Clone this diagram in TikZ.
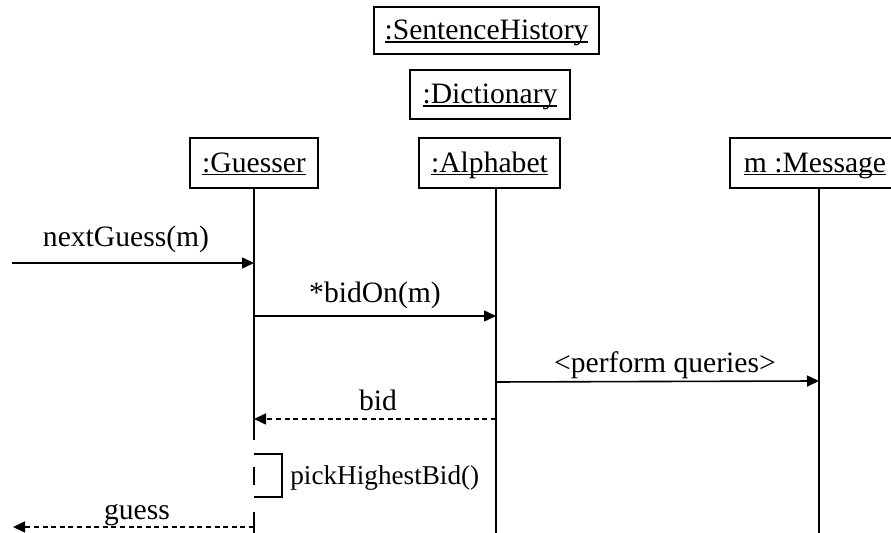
\documentclass[tikz,border=0pt]{standalone}
\usepackage{fontspec}
\setmainfont{Liberation Serif}
\usetikzlibrary{arrows.meta}

\newcommand\objlabel[1]{\setbox0\hbox{#1}\rlap{\vrule height -0.6pt depth 1.4pt width \wd0}\box0}

\tikzset{
  obj/.style={draw, line width=0.8pt, inner sep=0pt, text height=10.5pt, text depth=1pt},
  life/.style={line width=0.8pt},
  msg/.style={line width=0.8pt, -{Triangle[length=6pt,width=5.5pt]}},
  reply/.style={msg, dash pattern=on 2.5pt off 1.8pt},
  lbl/.style={anchor=base, inner sep=0pt}
}

\begin{document}
\begin{tikzpicture}[x=0.5pt, y=-0.5pt, font=\fontsize{14.8}{17}\selectfont]
    \useasboundingbox (0,0) rectangle (891,533);
    \clip (0,0) rectangle (891,533);

    % objects
    \node[obj, minimum width=112.5pt, minimum height=23.5pt] (history) at (486.5,30.5) {\objlabel{:SentenceHistory}};
    \node[obj, minimum width=80pt, minimum height=24.5pt] (dict) at (490,94.5) {\objlabel{:Dictionary}};
    \node[obj, minimum width=64pt, minimum height=25pt] (guesser) at (254,163) {\objlabel{:Guesser}};
    \node[obj, minimum width=70.5pt, minimum height=25pt] (alphabet) at (489.5,163) {\objlabel{:Alphabet}};
    \node[obj, minimum width=85pt, minimum height=25pt] (message) at (815,163) {\objlabel{m :Message}};

    % lifelines
    \coordinate (gbreak) at (254,440);
    \coordinate (gmid1) at (254,467);
    \coordinate (gmid2) at (254,485);
    \coordinate (gresume) at (254,512);
    \coordinate (gend) at (254,533);
    \coordinate (atop) at (496,188);
    \coordinate (aend) at (496,533);
    \coordinate (mtop) at (819,188);
    \coordinate (mend) at (819,533);
    \draw[life] (guesser.south) -- (gbreak);
    \draw[life] (gmid1) -- (gmid2);
    \draw[life] (gresume) -- (gend);
    \draw[life] (atop) -- (aend);
    \draw[life] (mtop) -- (mend);

    % messages
    \coordinate (caller) at (12,263);
    \coordinate (outside) at (13,527);
    \draw[msg] (caller) -- (caller -| guesser.south);
    \draw[msg] (guesser.south |- 0,316) -- (atop |- 0,316);
    \draw[msg] (atop |- 0,382) -- (mtop |- 0,381);
    \draw[reply] (atop |- 0,419) -- (guesser.south |- 0,419);
    \draw[reply] (guesser.south |- outside) -- (outside);

    % self call
    \coordinate (self1) at (254,454);
    \coordinate (self2) at (282,497);
    \draw[life] (self1) -| (self2) -- (self2 -| guesser.south);

    \node[lbl] (nextlbl) at (126,247) {nextGuess(m)};
    \node[lbl] (bidonlbl) at (375,303) {*bidOn(m)};
    \node[lbl] (querylbl) at (665,373) {\textless perform queries\textgreater};
    \node[lbl] (bidlbl) at (378,411) {bid};
    \node[lbl, anchor=base west, font=\fontsize{13.6}{16}\selectfont] (picklbl) at (290,485) {pickHighestBid()};
    \node[lbl] (guesslbl) at (137,520) {guess};

\end{tikzpicture}
\end{document}
